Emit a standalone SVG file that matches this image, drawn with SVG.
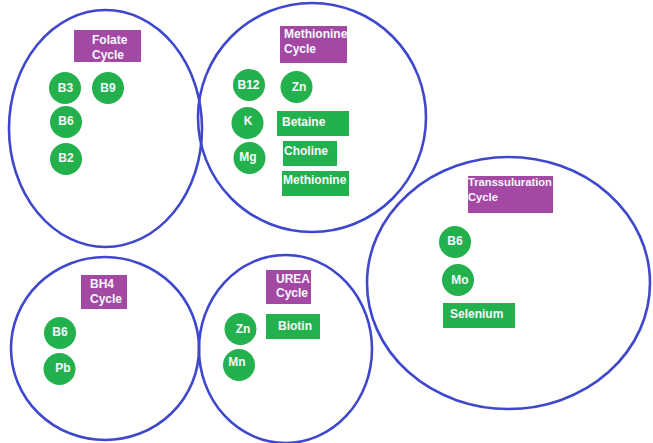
<svg xmlns="http://www.w3.org/2000/svg" width="653" height="443" viewBox="0 0 653 443">
<style>
.cyc{fill:none;stroke:#3f48cc;stroke-width:2.6}
.lab{fill:#a349a4}
.g{fill:#22b14c}
text{font-family:"Liberation Sans",Arial,sans-serif;font-weight:bold;font-size:12px;fill:#f6f8ff}
.m{text-anchor:middle}
</style>
<rect width="653" height="443" fill="#ffffff"/>
<g id="folate-cycle">
<ellipse class="cyc" cx="105.5" cy="128.5" rx="96.5" ry="118.5"/>
<rect class="lab" x="74" y="30" width="67" height="32"/>
<text x="92" y="44">Folate</text>
<text x="92" y="59">Cycle</text>
<g id="f-b3"><circle class="g" cx="65" cy="88" r="16"/><text class="m" x="65.5" y="92">B3</text></g>
<g id="f-b9"><circle class="g" cx="108" cy="88" r="16"/><text class="m" x="108" y="92">B9</text></g>
<g id="f-b6"><circle class="g" cx="66" cy="122" r="16"/><text class="m" x="66" y="125">B6</text></g>
<g id="f-b2"><circle class="g" cx="66" cy="159" r="16"/><text class="m" x="66" y="162">B2</text></g>
</g>
<g id="methionine-cycle">
<ellipse class="cyc" cx="312" cy="117.5" rx="114" ry="114.5"/>
<rect class="lab" x="280" y="26" width="67" height="37"/>
<text x="284" y="38">Methionine</text>
<text x="284" y="53">Cycle</text>
<g id="m-b12"><circle class="g" cx="249" cy="85" r="16"/><text class="m" x="248.5" y="88.5">B12</text></g>
<g id="m-zn"><circle class="g" cx="296.5" cy="87" r="16"/><text class="m" x="299" y="91">Zn</text></g>
<g id="m-k"><circle class="g" cx="247.5" cy="123" r="16"/><text class="m" x="248" y="125">K</text></g>
<g id="m-mg"><circle class="g" cx="249.5" cy="158" r="16"/><text class="m" x="248" y="161">Mg</text></g>
<g id="m-betaine"><rect class="g" x="277" y="111" width="72" height="25"/><text x="282" y="126">Betaine</text></g>
<g id="m-choline"><rect class="g" x="283" y="141" width="54" height="25"/><text x="284" y="155">Choline</text></g>
<g id="m-methionine"><rect class="g" x="282" y="171" width="67" height="25"/><text x="283" y="184">Methionine</text></g>
</g>
<g id="transsuluration-cycle">
<ellipse class="cyc" cx="508.5" cy="283" rx="141.5" ry="126"/>
<rect class="lab" x="468" y="176" width="85" height="37"/>
<text x="468" y="186" style="font-size:11.2px">Transsuluration</text>
<text x="468" y="201" style="font-size:11.2px">Cycle</text>
<g id="t-b6"><circle class="g" cx="455" cy="242" r="16"/><text class="m" x="455" y="245">B6</text></g>
<g id="t-mo"><circle class="g" cx="458" cy="280" r="16"/><text class="m" x="460" y="284">Mo</text></g>
<g id="t-selenium"><rect class="g" x="443" y="303" width="72" height="25"/><text x="450" y="318">Selenium</text></g>
</g>
<g id="bh4-cycle">
<ellipse class="cyc" cx="105" cy="348.5" rx="94" ry="91.5"/>
<rect class="lab" x="81" y="275" width="46" height="34"/>
<text x="90" y="288">BH4</text>
<text x="90" y="303">Cycle</text>
<g id="b-b6"><circle class="g" cx="60" cy="333" r="16"/><text class="m" x="60" y="336">B6</text></g>
<g id="b-pb"><circle class="g" cx="59.5" cy="369" r="16"/><text class="m" x="63" y="372">Pb</text></g>
</g>
<g id="urea-cycle">
<ellipse class="cyc" cx="285.5" cy="349" rx="86.5" ry="94"/>
<rect class="lab" x="266" y="270" width="45" height="34"/>
<text x="276" y="283">UREA</text>
<text x="276" y="297">Cycle</text>
<g id="u-zn"><circle class="g" cx="240.5" cy="329" r="16"/><text class="m" x="243" y="333">Zn</text></g>
<g id="u-mn"><circle class="g" cx="239" cy="365" r="16"/><text class="m" x="237" y="366">Mn</text></g>
<g id="u-biotin"><rect class="g" x="266" y="314" width="54" height="25"/><text x="278" y="330">Biotin</text></g>
</g>
<g id="connectors"/>
</svg>
